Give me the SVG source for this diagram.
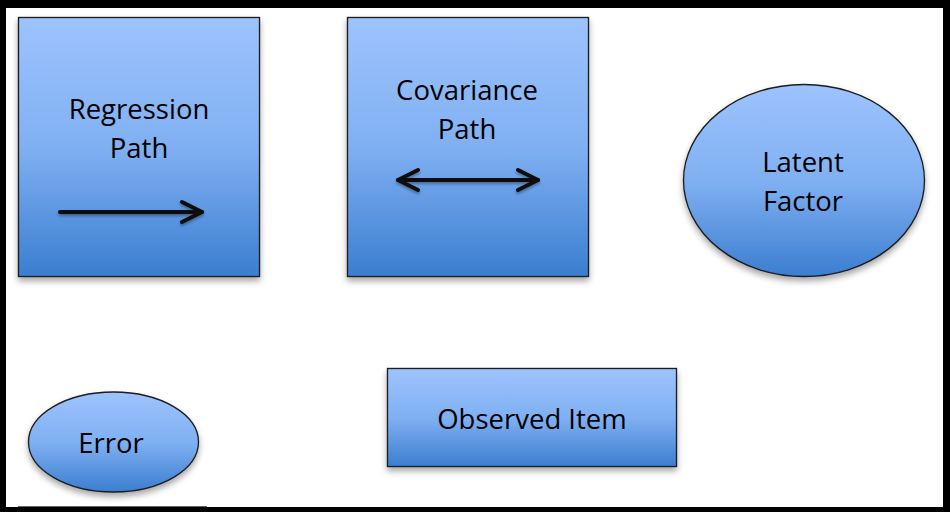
<svg xmlns="http://www.w3.org/2000/svg" width="950" height="512" viewBox="0 0 950 512">
  <defs>
    <linearGradient id="blueFill" x1="0" y1="0" x2="0" y2="1">
      <stop offset="0" stop-color="#9dc3fd"/>
      <stop offset="0.5" stop-color="#80b0f2"/>
      <stop offset="1" stop-color="#3b7ed0"/>
    </linearGradient>
    <filter id="shadow" x="-20%" y="-20%" width="140%" height="150%">
      <feDropShadow dx="0" dy="4" stdDeviation="3" flood-color="#000" flood-opacity="0.35"/>
    </filter>
    <filter id="arrowShadow" x="-20%" y="-60%" width="140%" height="220%">
      <feDropShadow dx="0" dy="2" stdDeviation="1.5" flood-color="#000" flood-opacity="0.35"/>
    </filter>
    <marker id="chevron" viewBox="-24 -13 28 26" refX="0" refY="0" markerWidth="28" markerHeight="26" markerUnits="userSpaceOnUse" orient="auto-start-reverse">
      <path d="M-20,-10 L0,0 L-20,10" fill="none" stroke="#111" stroke-width="4" stroke-linecap="round" stroke-linejoin="round"/>
    </marker>
    <style>
      .shape { fill: url(#blueFill); stroke: #1c1c1c; stroke-width: 1.3; filter: url(#shadow); }
      .label { font-family: "Open Sans", "Liberation Sans", sans-serif; font-size: 27.5px; fill: #000; text-anchor: middle; }
      .path-line { fill: none; stroke: #111; stroke-width: 4; stroke-linecap: round; marker-end: url(#chevron); }
      .frame { fill: #000; }
    </style>
  </defs>

  <rect width="950" height="512" fill="#fff"/>

  <!-- outer frame -->
  <g id="frame">
    <rect class="frame" x="0" y="0" width="950" height="8"/>
    <rect class="frame" x="0" y="0" width="6" height="512"/>
    <rect class="frame" x="943" y="0" width="7" height="512"/>
    <rect class="frame" x="0" y="507" width="950" height="5"/>
    <line x1="18" y1="506.5" x2="207" y2="506.5" stroke="#666" stroke-width="1"/>
  </g>

  <g id="regression-path">
    <rect class="shape" x="18.5" y="17.5" width="241" height="259"/>
    <text class="label" x="139" y="119">Regression</text>
    <text class="label" x="139" y="158">Path</text>
  </g>

  <g id="covariance-path">
    <rect class="shape" x="347.5" y="17.5" width="241" height="259"/>
    <text class="label" x="467" y="100">Covariance</text>
    <text class="label" x="467" y="139">Path</text>
  </g>

  <g id="latent-factor">
    <ellipse class="shape" cx="804" cy="180.5" rx="120.5" ry="96"/>
    <text class="label" x="803" y="172">Latent</text>
    <text class="label" x="803" y="211">Factor</text>
  </g>

  <g id="error">
    <ellipse class="shape" cx="113.5" cy="442" rx="85" ry="50"/>
    <text class="label" x="111" y="453">Error</text>
  </g>

  <g id="observed-item">
    <rect class="shape" x="387.5" y="368.5" width="289" height="98"/>
    <text class="label" x="532" y="429">Observed Item</text>
  </g>

  <!-- path symbols drawn inside the legend boxes -->
  <g id="connectors" filter="url(#arrowShadow)">
    <line class="path-line" x1="60" y1="212" x2="202" y2="212"/>
    <line class="path-line" x1="398" y1="180" x2="538" y2="180" marker-start="url(#chevron)"/>
  </g>
</svg>
